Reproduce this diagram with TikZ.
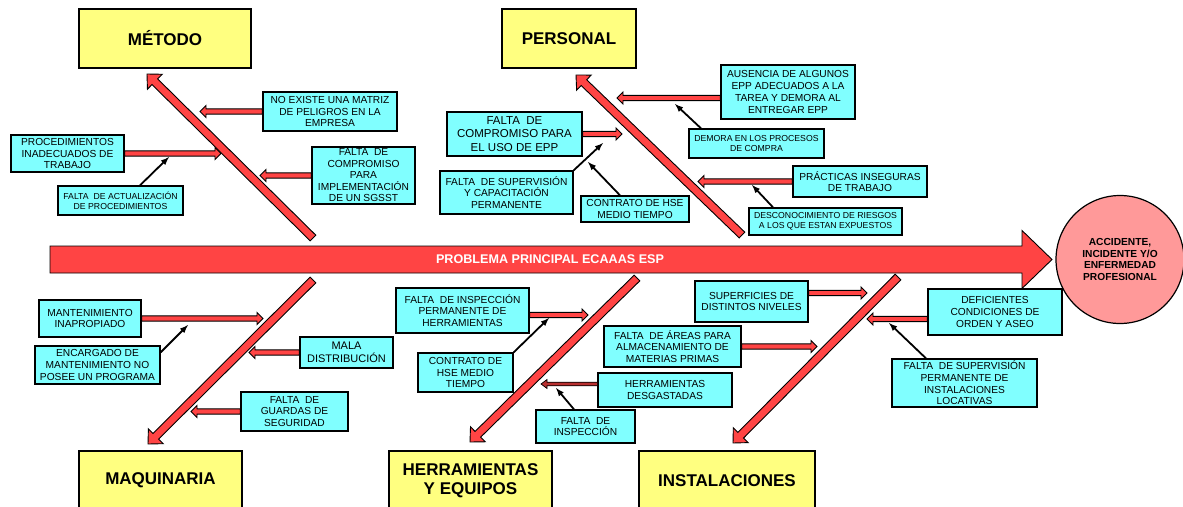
\documentclass[tikz,border=0pt]{standalone}
\usepackage{fontspec}
\setmainfont{Liberation Sans}
\usetikzlibrary{arrows,calc}

\definecolor{rojo}{HTML}{FF4444}
\definecolor{rojooscuro}{HTML}{B83030}
\definecolor{amarillo}{HTML}{FFFF80}
\definecolor{celeste}{HTML}{80FFFF}
\definecolor{rosado}{HTML}{FF9999}

\tikzset{
  categoria/.style={draw=black, line width=1.2pt, fill=amarillo, align=center, inner sep=0pt,
    font=\bfseries\fontsize{17}{19.5}\selectfont},
  causa/.style={draw=black, line width=1.3pt, fill=celeste, align=center, inner sep=0pt,
    font=\fontsize{10.2}{11.7}\selectfont},
  subcausa/.style={causa, font=\fontsize{8.7}{10}\selectfont},
  espina/.style={fill=rojo, draw=black, line width=0.9pt},
  espinafina/.style={fill=rojooscuro, draw=black, line width=0.7pt},
  flechita/.style={draw=black, line width=1.8pt, -latex},
}

% flecha gruesa: estilo, inicio, punta, medio ancho, medio ancho punta, largo punta
\newcommand{\flecha}[6][espina]{
  \coordinate (fa) at #2;
  \coordinate (fb) at #3;
  \coordinate (fh) at ($(fb)!#6!(fa)$);
  \filldraw[#1] ($(fa)!#4!-90:(fb)$) -- ($(fh)!#4!90:(fa)$) -- ($(fh)!#5!90:(fa)$) -- (fb)
    -- ($(fh)!#5!-90:(fa)$) -- ($(fh)!#4!-90:(fa)$) -- ($(fa)!#4!90:(fb)$) -- cycle;
}

\begin{document}
\begin{tikzpicture}[x=1pt, y=-1pt]
  \useasboundingbox (0,0) rectangle (1183,506);

  % efecto
  \node[draw=black, line width=1.2pt, fill=rosado, circle, minimum size=128pt, inner sep=0pt,
    align=center, font=\bfseries\fontsize{10.2}{11.7}\selectfont] (efecto) at (1120,259.5)
    {ACCIDENTE,\\INCIDENTE Y/O\\ENFERMEDAD\\PROFESIONAL};

  % espina central
  \coordinate (cola) at (50,259.5);
  \coordinate (punta) at (1052,259.5);
  \flecha{(cola)}{(punta)}{13.5pt}{29pt}{30pt}
  \node[text=white, font=\bfseries\fontsize{12.6}{14}\selectfont] (problema) at (550,259.5)
    {PROBLEMA PRINCIPAL ECAAAS ESP};

  % categorias
  \node[categoria, minimum width=172pt, minimum height=59pt] (metodo) at (165,38.5) {MÉTODO};
  \node[categoria, minimum width=134pt, minimum height=59pt] (personal) at (569,38.5) {PERSONAL};
  \node[categoria, minimum width=163pt, minimum height=59pt] (maquinaria) at (160.5,480.5) {MAQUINARIA};
  \node[categoria, minimum width=163pt, minimum height=59pt] (herramientas) at (470.5,480.5) {HERRAMIENTAS\\Y EQUIPOS};
  \node[categoria, minimum width=176pt, minimum height=59pt] (instalaciones) at (727,480.5) {INSTALACIONES};

  % espinas de cada categoria
  \coordinate (m0) at (313,238);  \coordinate (m1) at (147,74);
  \coordinate (p0) at (742,235);  \coordinate (p1) at (576,75);
  \coordinate (q0) at (313,280);  \coordinate (q1) at (148,444);
  \coordinate (h0) at (637,278);  \coordinate (h1) at (470,442);
  \coordinate (i0) at (898,277);  \coordinate (i1) at (733,443);
  \foreach \a/\b in {m0/m1, p0/p1, q0/q1, h0/h1, i0/i1}{
    \flecha{(\a)}{(\b)}{4pt}{10.5pt}{11pt}
  }

  % metodo
  \node[causa, minimum width=134pt, minimum height=39pt] (nomatriz) at (330,111.5)
    {NO EXISTE UNA MATRIZ\\DE PELIGROS EN LA\\EMPRESA};
  \node[causa, minimum width=113pt, minimum height=37pt] (procinad) at (67.5,153.5)
    {PROCEDIMIENTOS\\INADECUADOS DE\\TRABAJO};
  \node[causa, minimum width=103pt, minimum height=57pt, font=\fontsize{10.2}{11.5}\selectfont] (sgsst) at (363.5,175.5)
    {FALTA\ \ DE\\COMPROMISO\\PARA\\IMPLEMENTACIÓN\\DE UN SGSST};
  \node[subcausa, minimum width=125pt, minimum height=29pt] (actualiz) at (120.5,200.5)
    {FALTA\ \ DE ACTUALIZACIÓN\\DE PROCEDIMIENTOS};
  \coordinate (tm1) at (200,111.5);
  \coordinate (tm2) at (221,153.5);
  \coordinate (tm3) at (260,175.5);
  \coordinate (km1) at (169,157);
  \flecha{(nomatriz.west)}{(tm1)}{2.6pt}{6pt}{6pt}
  \flecha{(procinad.east)}{(tm2)}{2.6pt}{6pt}{6pt}
  \flecha{(sgsst.west)}{(tm3)}{2.6pt}{6pt}{6pt}
  \draw[flechita] ($(actualiz.north)+(19.5,0)$) -- (km1);

  % personal
  \node[causa, minimum width=134pt, minimum height=54pt] (ausencia) at (788,92)
    {AUSENCIA DE ALGUNOS\\EPP ADECUADOS A LA\\TAREA Y DEMORA AL\\ENTREGAR EPP};
  \node[subcausa, minimum width=135pt, minimum height=29pt] (demora) at (756.5,143.5)
    {DEMORA EN LOS PROCESOS\\DE COMPRA};
  \node[causa, minimum width=135pt, minimum height=44pt, font=\fontsize{11.5}{13.3}\selectfont] (compepp) at (514.5,134)
    {FALTA\ \ DE\\COMPROMISO PARA\\EL USO DE EPP};
  \node[causa, minimum width=133pt, minimum height=43pt, font=\fontsize{10.2}{11.2}\selectfont] (supcap) at (506.5,192.5)
    {FALTA\ \ DE SUPERVISIÓN\\Y CAPACITACIÓN\\PERMANENTE};
  \node[causa, minimum width=108pt, minimum height=26pt] (hseuno) at (635,209)
    {CONTRATO DE HSE\\MEDIO TIEMPO};
  \node[causa, minimum width=134pt, minimum height=31pt] (practicas) at (860,181.5)
    {PRÁCTICAS INSEGURAS\\DE TRABAJO};
  \node[subcausa, minimum width=153pt, minimum height=27pt] (desconoc) at (825.5,221.5)
    {DESCONOCIMIENTO DE RIESGOS\\A LOS QUE ESTAN EXPUESTOS};
  \coordinate (tp1) at (617,98);
  \coordinate (tp2) at (622,134);
  \coordinate (tp3) at (698,181.5);
  \coordinate (kp1) at (675,104);
  \coordinate (kp2) at (603,143);
  \coordinate (kp3) at (588,162);
  \coordinate (kp4) at (752,185);
  \flecha{(ausencia.west |- tp1)}{(tp1)}{2.6pt}{6pt}{6pt}
  \flecha{(compepp.east)}{(tp2)}{2.6pt}{6pt}{6pt}
  \flecha{(practicas.west)}{(tp3)}{2.6pt}{6pt}{6pt}
  \draw[flechita] ($(demora.north)+(-55.5,0)$) -- (kp1);
  \draw[flechita] (supcap.north east) -- (kp2);
  \draw[flechita] ($(hseuno.north)+(-15,0)$) -- (kp3);
  \draw[flechita] ($(desconoc.north)+(-52.5,0)$) -- (kp4);

  % maquinaria
  \node[causa, minimum width=102pt, minimum height=37pt] (mantinap) at (90,318.5)
    {MANTENIMIENTO\\INAPROPIADO};
  \node[causa, minimum width=125pt, minimum height=38pt] (encargado) at (97.5,365)
    {ENCARGADO DE\\MANTENIMIENTO NO\\POSEE UN PROGRAMA};
  \node[causa, minimum width=93pt, minimum height=31pt, font=\fontsize{11}{12.5}\selectfont] (mala) at (346.5,352.5)
    {MALA\\DISTRIBUCIÓN};
  \node[causa, minimum width=107pt, minimum height=39pt] (guardas) at (294.5,411.5)
    {FALTA\ \ DE\\GUARDAS DE\\SEGURIDAD};
  \coordinate (tq1) at (263,318.5);
  \coordinate (tq2) at (249,352.5);
  \coordinate (tq3) at (191,411.5);
  \coordinate (kq1) at (188,325);
  \flecha{(mantinap.east)}{(tq1)}{2.6pt}{6pt}{6pt}
  \flecha{(mala.west)}{(tq2)}{2.6pt}{6pt}{6pt}
  \flecha{(guardas.west)}{(tq3)}{2.6pt}{6pt}{6pt}
  \draw[flechita] ($(encargado.north east)+(0,7)$) -- (kq1);

  % herramientas y equipos
  \node[causa, minimum width=133pt, minimum height=45pt] (inspherr) at (462.5,310.5)
    {FALTA\ \ DE INSPECCIÓN\\PERMANENTE DE\\HERRAMIENTAS};
  \node[causa, minimum width=95pt, minimum height=39pt] (hsedos) at (465.5,372.5)
    {CONTRATO DE\\HSE MEDIO\\TIEMPO};
  \node[causa, minimum width=134pt, minimum height=34pt] (desgast) at (665,390)
    {HERRAMIENTAS\\DESGASTADAS};
  \node[causa, minimum width=99pt, minimum height=33pt] (faltainsp) at (585.5,426.5)
    {FALTA\ \ DE\\INSPECCIÓN};
  \coordinate (th1) at (588,315);
  \coordinate (th2) at (541,384);
  \coordinate (kh1) at (549,318);
  \coordinate (kh2) at (556,388);
  \flecha{(inspherr.east |- th1)}{(th1)}{2.6pt}{6pt}{6pt}
  \flecha[espinafina]{(desgast.west |- th2)}{(th2)}{1.8pt}{4.5pt}{6pt}
  \draw[flechita] (hsedos.north east) -- (kh1);
  \draw[flechita] ($(faltainsp.north)+(-11.5,0)$) -- (kh2);

  % instalaciones
  \node[causa, minimum width=113pt, minimum height=41pt] (superf) at (751.5,301.5)
    {SUPERFICIES DE\\DISTINTOS NIVELES};
  \node[causa, minimum width=137pt, minimum height=41pt] (areas) at (672.5,346.5)
    {FALTA\ \ DE ÁREAS PARA\\ALMACENAMIENTO DE\\MATERIAS PRIMAS};
  \node[causa, minimum width=134pt, minimum height=46pt] (deficientes) at (995,312)
    {DEFICIENTES\\CONDICIONES DE\\ORDEN Y ASEO};
  \node[causa, minimum width=145pt, minimum height=48pt] (supinst) at (964.5,383)
    {FALTA\ \ DE SUPERVISIÓN\\PERMANENTE DE\\INSTALACIONES\\LOCATIVAS};
  \coordinate (ti1) at (867,293);
  \coordinate (ti2) at (867,319);
  \coordinate (ti3) at (817,346.5);
  \coordinate (ki1) at (889,323);
  \flecha{(superf.east |- ti1)}{(ti1)}{2.6pt}{6pt}{6pt}
  \flecha{(deficientes.west |- ti2)}{(ti2)}{2.6pt}{6pt}{6pt}
  \flecha{(areas.east)}{(ti3)}{2.6pt}{6pt}{6pt}
  \draw[flechita] ($(supinst.north)+(-38.5,0)$) -- (ki1);
\end{tikzpicture}
\end{document}
